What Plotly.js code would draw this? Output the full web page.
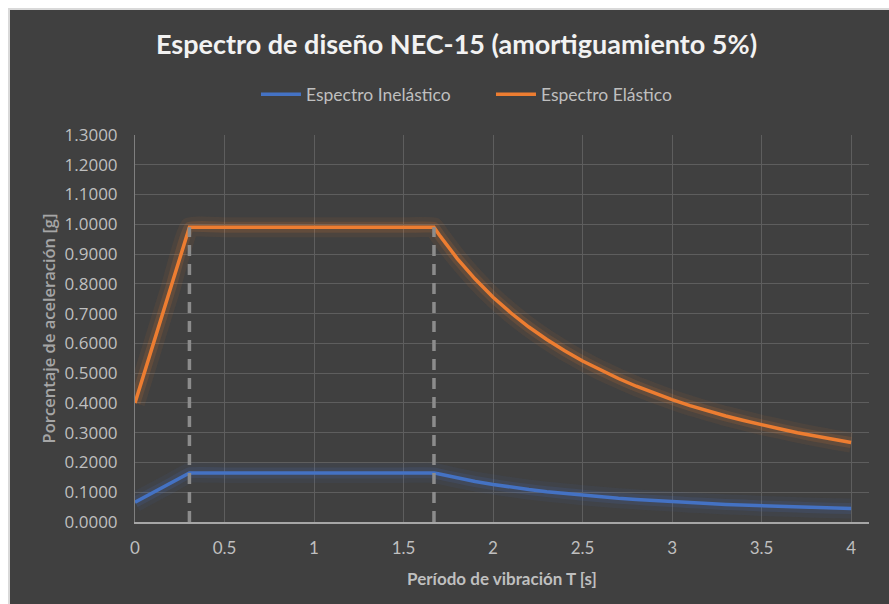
<!DOCTYPE html>
<html>
<head>
<meta charset="utf-8">
<script src="https://cdn.plot.ly/plotly-3.0.1.min.js"></script>
<style>
  html, body { margin: 0; padding: 0; background: #ffffff; width: 889px; height: 604px; overflow: hidden; }
  #frame { position: absolute; left: 8px; top: 8px; width: 881px; height: 596px;
           border-left: 2px solid #d9d9d9; border-top: 2px solid #d9d9d9; box-sizing: border-box; }
  #chart { position: absolute; left: 0; top: 0; width: 879px; height: 594px; }
</style>
</head>
<body>
<div id="frame"><div id="chart"></div></div>
<script>
// Period T [s]
const periodT = [0, 0.1, 0.2, 0.304, 0.5, 1.0, 1.5, 1.67, 1.7, 1.8, 1.9, 2.0, 2.1, 2.2, 2.3, 2.4, 2.5,
                 2.6, 2.7, 2.8, 2.9, 3.0, 3.1, 3.2, 3.3, 3.4, 3.5, 3.6, 3.7, 3.8, 3.9, 4.0];
// Espectro Elástico [g]
const elastic = [0.400, 0.594, 0.788, 0.990, 0.990, 0.990, 0.990, 0.990, 0.964, 0.885, 0.816, 0.755, 0.702, 0.655, 0.613, 0.575, 0.541,
                 0.510, 0.482, 0.456, 0.433, 0.411, 0.391, 0.373, 0.356, 0.341, 0.326, 0.313, 0.300, 0.288, 0.277, 0.267];
// Espectro Inelástico [g]
const inelastic = [0.0667, 0.099, 0.131, 0.165, 0.165, 0.165, 0.165, 0.165, 0.161, 0.148, 0.136, 0.126, 0.117, 0.109, 0.102, 0.096, 0.090,
                   0.085, 0.080, 0.076, 0.072, 0.069, 0.065, 0.062, 0.059, 0.057, 0.054, 0.052, 0.050, 0.048, 0.046, 0.045];
// Dashed marker lines at T0 and Tc
const dashT0 = [0.304, 0.304];
const dashTc = [1.67, 1.67];
const dashY = [0, 0.99];
// Tick labels
const xTickVals = [0, 0.5, 1, 1.5, 2, 2.5, 3, 3.5, 4];
const xTickText = ['0', '0.5', '1', '1.5', '2', '2.5', '3', '3.5', '4'];
const yTickVals = [0, 0.1, 0.2, 0.3, 0.4, 0.5, 0.6, 0.7, 0.8, 0.9, 1.0, 1.1, 1.2, 1.3];
const yTickText = ['0.0000','0.1000','0.2000','0.3000','0.4000','0.5000','0.6000','0.7000','0.8000','0.9000','1.0000','1.1000','1.2000','1.3000'];

const BLUE = '#4472C4', ORANGE = '#ED7D31';
function glow(y, rgb, w, a) {
  return { x: periodT, y: y, mode: 'lines', showlegend: false, hoverinfo: 'skip',
           line: { color: 'rgba(' + rgb + ',' + a + ')', width: w, shape: 'spline', smoothing: 0.3 } };
}
const traces = [
  glow(inelastic, '68,114,196', 20, 0.07),
  glow(inelastic, '68,114,196', 11, 0.14),
  glow(elastic, '237,125,49', 20, 0.07),
  glow(elastic, '237,125,49', 11, 0.14),
  { x: periodT, y: inelastic, mode: 'lines', name: 'Espectro Inelástico',
    line: { color: BLUE, width: 3.5 } },
  { x: periodT, y: elastic, mode: 'lines', name: 'Espectro Elástico',
    line: { color: ORANGE, width: 3.5 } },
  { x: dashT0, y: dashY, mode: 'lines', showlegend: false, hoverinfo: 'skip',
    line: { color: '#8c8c8c', width: 3.5, dash: '11px,8px' } },
  { x: dashTc, y: dashY, mode: 'lines', showlegend: false, hoverinfo: 'skip',
    line: { color: '#8c8c8c', width: 3.5, dash: '11px,8px' } }
];

const layout = {
  width: 879, height: 594,
  paper_bgcolor: '#404040', plot_bgcolor: '#404040',
  margin: { l: 125, r: 20, t: 125, b: 82 },
  title: { text: 'Espectro de diseño NEC-15 (amortiguamiento 5%)',
           font: { family: 'Lato', size: 27, color: '#f2f2f2', weight: 700 },
           x: 0.508, xanchor: 'center', y: 0.942, yanchor: 'middle' },
  legend: { orientation: 'h', x: 0.485, xanchor: 'center', y: 1.105, yanchor: 'middle',
            font: { family: 'Lato', size: 17.5, color: '#bfbfbf' }, itemwidth: 40,
            entrywidth: 180, entrywidthmode: 'pixels',
            bgcolor: 'rgba(0,0,0,0)' },
  xaxis: {
    range: [0, 4.1], tickvals: xTickVals, ticktext: xTickText,
    showgrid: true, gridcolor: '#5e5e5e', gridwidth: 1,
    zeroline: false, showline: true, linecolor: '#a6a6a6', linewidth: 2,
    ticks: '', ticklen: 0, ticklabelstandoff: 10,
    tickfont: { family: 'Lato', size: 17, color: '#bfbfbf' },
    title: { text: 'Período de vibración T [s]', standoff: 16,
             font: { family: 'Lato', size: 17, color: '#bfbfbf', weight: 700 } }
  },
  yaxis: {
    range: [0, 1.3], tickvals: yTickVals, ticktext: yTickText,
    showgrid: true, gridcolor: '#5e5e5e', gridwidth: 1,
    zeroline: false, showline: true, linecolor: '#7f7f7f', linewidth: 1,
    ticks: '', ticklen: 0, ticklabelstandoff: 13,
    tickfont: { family: 'Open Sans', size: 17, color: '#bfbfbf' },
    title: { text: 'Porcentaje de aceleración [g]', standoff: 4,
             font: { family: 'Open Sans', size: 16.5, color: '#a6a6a6', weight: 600 } }
  },
  showlegend: true
};

Plotly.newPlot('chart', traces, layout, { displayModeBar: false, staticPlot: true });
</script>
</body>
</html>
